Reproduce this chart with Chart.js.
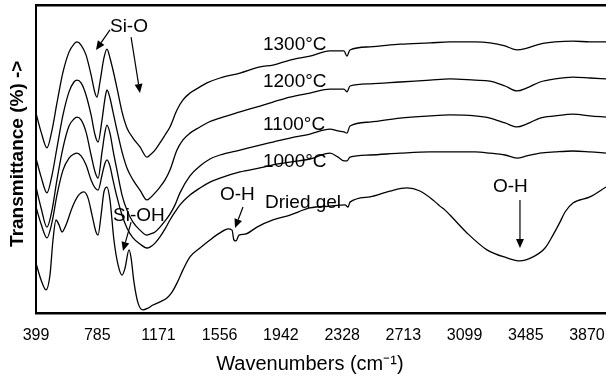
<!DOCTYPE html>
<html>
<head>
<meta charset="utf-8">
<script src="https://cdn.jsdelivr.net/npm/chart.js@4.4.1/dist/chart.umd.min.js"></script>
<style>
  html, body { margin: 0; padding: 0; background: #fff; }
  #wrap { width: 606px; height: 376px; position: relative; }
</style>
</head>
<body>
<div id="wrap"><canvas id="ftir"></canvas></div>
<script>
// tick labels on the wavenumber axis (cm-1)
const tickLabels = [399, 785, 1171, 1556, 1942, 2328, 2713, 3099, 3485, 3870];

// spectra (transmittance in arbitrary %, offset per sample)
const wn1300 = [399,431,468,500,531,569,607,638,657,683,714,746,771,783,802,827,846,865,884,909,941,972,1010,1054,1098,1117,1149,1180,1212,1243,1287,1325,1369,1432,1476,1558,1684,1810,1892,1999,2125,2251,2339,2358,2377,2503,2692,2881,3007,3165,3259,3354,3429,3492,3574,3669,3782,3889,3990];
const t1300 = [64.9,58.8,53.6,59.4,68.2,78.2,84.7,87.3,88.0,87.0,83.8,77.3,71.4,70.1,75.0,82.8,85.7,82.8,78.9,73.1,65.3,60.1,56.8,53.9,50.6,51.3,52.9,55.2,57.8,60.4,65.9,69.2,71.4,73.4,74.7,76.3,77.9,79.9,80.5,82.1,83.4,85.1,85.1,83.4,85.4,86.4,87.3,87.7,88.0,88.0,87.7,86.7,85.4,86.0,87.3,88.0,88.3,88.0,88.0];

const wn1200 = [399,431,468,500,531,569,607,638,657,683,714,746,771,790,815,834,846,865,884,909,941,972,1010,1054,1098,1117,1149,1180,1212,1243,1287,1325,1369,1432,1476,1558,1684,1810,1892,1999,2125,2251,2339,2358,2377,2503,2692,2881,3007,3165,3259,3354,3429,3492,3574,3669,3782,3889,3990];
const t1200 = [50.3,44.2,39.0,44.8,53.6,64.3,71.8,75.0,75.6,74.7,70.8,64.3,57.8,55.5,62.7,69.8,72.4,69.8,65.3,59.4,52.3,47.1,43.2,39.9,36.7,37.3,39.0,40.9,43.2,46.4,52.9,56.2,58.4,60.4,61.7,63.3,65.3,67.2,68.5,70.1,71.4,72.7,72.7,71.8,73.7,74.4,75.0,75.6,76.0,75.6,75.3,73.7,72.1,73.1,75.0,76.0,76.6,76.3,76.0];

const wn1100 = [399,431,468,500,531,569,607,638,657,683,714,746,771,790,815,834,846,865,884,909,941,972,1010,1054,1098,1117,1149,1180,1212,1243,1275,1306,1369,1432,1495,1558,1684,1810,1892,1999,2125,2251,2302,2339,2358,2377,2503,2692,2881,3007,3165,3259,3354,3429,3492,3574,3669,3782,3889,3990];
const t1100 = [40.9,34.1,27.9,33.4,43.2,53.6,60.7,63.0,63.6,62.7,58.8,51.3,45.8,43.8,52.3,58.8,61.0,58.4,52.9,46.4,38.3,33.4,29.5,26.9,25.3,25.6,26.3,27.9,29.9,32.1,35.1,39.0,44.5,47.7,50.0,51.3,52.9,54.5,55.5,56.8,58.1,59.7,59.1,58.8,58.4,60.7,62.0,63.3,64.0,64.3,64.0,63.3,61.7,60.4,61.4,63.3,64.0,64.6,64.0,63.6];

const wn1000 = [399,431,468,500,531,569,607,638,657,683,714,746,771,790,815,834,846,865,884,909,941,972,1010,1054,1098,1117,1149,1180,1212,1243,1275,1306,1369,1432,1495,1558,1684,1810,1892,1999,2125,2251,2302,2339,2358,2377,2503,2692,2881,3007,3165,3259,3354,3429,3492,3574,3669,3782,3889,3990];
const t1000 = [34.4,28.9,24.4,29.5,38.3,46.4,50.3,51.6,51.9,51.0,48.1,43.2,40.6,39.9,44.8,48.7,49.7,47.7,43.2,37.7,31.8,27.6,24.4,22.4,21.1,21.4,22.7,24.7,27.3,30.2,32.8,35.1,38.3,40.6,42.5,43.8,45.8,47.1,48.1,49.0,50.0,51.9,50.6,49.4,49.4,50.6,51.3,51.9,52.3,52.3,52.3,51.9,51.3,50.3,51.0,51.9,52.3,52.6,52.3,51.9];

const wnGel = [399,431,462,487,506,525,544,563,588,626,664,701,727,752,777,790,809,827,846,865,890,916,941,960,985,998,1016,1042,1073,1105,1136,1180,1224,1256,1287,1325,1369,1432,1495,1558,1609,1634,1646,1659,1678,1716,1791,1892,1999,2125,2251,2346,2365,2377,2503,2629,2736,2818,2900,2944,2976,3007,3114,3240,3366,3448,3530,3606,3656,3700,3732,3782,3889,3990];
const tGel = [16.2,10.7,7.5,12.3,23.7,30.2,28.6,26.3,28.6,34.1,38.0,39.3,37.3,31.8,26.3,25.3,31.8,39.3,40.9,36.7,23.7,15.6,12.3,14.6,20.5,17.9,10.1,3.2,1.0,1.6,2.6,3.6,4.9,6.8,9.7,14.0,18.2,21.1,23.7,26.0,27.3,26.9,23.7,23.4,25.3,25.6,27.9,30.2,31.8,34.1,34.7,35.1,34.4,36.0,37.7,39.6,40.6,39.6,36.7,34.7,33.4,31.8,26.0,20.5,17.9,16.9,18.2,21.1,25.3,29.5,32.8,35.7,37.7,40.9];

// text labels and arrows, placed in data units
const notes = [
    { text: '1300\u00B0C', wn: 1829, t: 87.0 },
    { text: '1200\u00B0C', wn: 1829, t: 75.0 },
    { text: '1100\u00B0C', wn: 1829, t: 61.0 },
    { text: '1000\u00B0C', wn: 1829, t: 49.0 },
    { text: 'Dried gel', wn: 1842, t: 35.7 },
    { text: 'Si-O', wn: 865, t: 92.9 },
    { text: 'Si-OH', wn: 884, t: 31.5 },
    { text: 'O-H', wn: 1558, t: 38.3 },
    { text: 'O-H', wn: 3278, t: 40.9 }
];
const arrows = [
    { from: [865, 91.9], to: [777, 85.4] },
    { from: [998, 89.6], to: [1054, 71.4] },
    { from: [998, 29.5], to: [947, 20.1] },
    { from: [1703, 34.4], to: [1653, 27.6] },
    { from: [3448, 36.7], to: [3448, 21.1] }
];

const toPoints = (xs, ys) => xs.map((x, i) => ({ x: x, y: ys[i] }));

const spectrum = (label, xs, ys) => ({
    label: label,
    data: toPoints(xs, ys),
    borderColor: '#000',
    borderWidth: 1.3,
    pointRadius: 0,
    cubicInterpolationMode: 'monotone',
    fill: false
});

const notesPlugin = {
    id: 'notes',
    afterDatasetsDraw(chart) {
        const ctx = chart.ctx;
        const sx = chart.scales.x, sy = chart.scales.y;
        ctx.save();
        ctx.fillStyle = '#000';
        ctx.strokeStyle = '#000';
        ctx.font = '19px "Liberation Sans", Arial, sans-serif';
        ctx.textAlign = 'left';
        ctx.textBaseline = 'middle';
        notes.forEach(n => {
            ctx.fillText(n.text, sx.getPixelForValue(n.wn), sy.getPixelForValue(n.t));
        });
        ctx.lineWidth = 1.2;
        arrows.forEach(a => {
            const x1 = sx.getPixelForValue(a.from[0]), y1 = sy.getPixelForValue(a.from[1]);
            const x2 = sx.getPixelForValue(a.to[0]), y2 = sy.getPixelForValue(a.to[1]);
            const ang = Math.atan2(y2 - y1, x2 - x1);
            const len = 9, half = 4;
            const bx = x2 - len * Math.cos(ang), by = y2 - len * Math.sin(ang);
            ctx.beginPath();
            ctx.moveTo(x1, y1);
            ctx.lineTo(bx, by);
            ctx.stroke();
            ctx.beginPath();
            ctx.moveTo(x2, y2);
            ctx.lineTo(bx + half * Math.sin(ang), by - half * Math.cos(ang));
            ctx.lineTo(bx - half * Math.sin(ang), by + half * Math.cos(ang));
            ctx.closePath();
            ctx.fill();
        });
        ctx.restore();
    }
};

// keep the plot box fixed: no extra room for overhanging tick labels
const fixBox = (w, h) => scale => {
    if (w !== null) scale.width = w;
    if (h !== null) scale.height = h;
    scale.paddingLeft = 0;
    scale.paddingRight = 0;
    scale.paddingTop = 0;
    scale.paddingBottom = 0;
};

Chart.defaults.font.family = '"Liberation Sans", Arial, sans-serif';
Chart.defaults.color = '#000';

new Chart(document.getElementById('ftir').getContext('2d'), {
    type: 'line',
    data: {
        datasets: [
            spectrum('1300°C', wn1300, t1300),
            spectrum('1200°C', wn1200, t1200),
            spectrum('1100°C', wn1100, t1100),
            spectrum('1000°C', wn1000, t1000),
            spectrum('Dried gel', wnGel, tGel)
        ]
    },
    options: {
        responsive: true,
        maintainAspectRatio: false,
        animation: false,
        layout: { padding: 0 },
        plugins: {
            legend: { display: false },
            tooltip: { enabled: false }
        },
        scales: {
            x: {
                type: 'linear',
                min: 399,
                max: 3990,
                afterBuildTicks: scale => {
                    scale.ticks = tickLabels.map(v => ({ value: v }));
                },
                afterFit: fixBox(null, 63),
                ticks: {
                    autoSkip: false,
                    maxRotation: 0,
                    padding: 13,
                    font: { size: 16 },
                    callback: v => String(v)
                },
                grid: { display: false, drawTicks: false },
                border: { display: true, color: '#000', width: 2.5 },
                title: {
                    display: true,
                    // trailing spaces nudge the centred title a little left, as in the original
                    text: 'Wavenumbers (cm\u207B\u00B9)    ',
                    font: { size: 20 },
                    padding: { top: 4, bottom: 0 }
                }
            },
            xTop: {
                type: 'linear',
                position: 'top',
                min: 399,
                max: 3990,
                afterFit: fixBox(null, 5),
                ticks: { display: false },
                grid: { display: false, drawTicks: false },
                border: { display: true, color: '#000', width: 2.5 }
            },
            y: {
                min: 0,
                max: 100,
                afterFit: fixBox(36, null),
                ticks: { display: false },
                grid: { display: false, drawTicks: false },
                border: { display: true, color: '#000', width: 2 },
                title: {
                    display: true,
                    text: '  Transmittance (%) ->',
                    font: { size: 19, weight: 'bold' },
                    padding: { top: 6, bottom: 0 }
                }
            }
        }
    },
    plugins: [notesPlugin]
});
</script>
</body>
</html>
